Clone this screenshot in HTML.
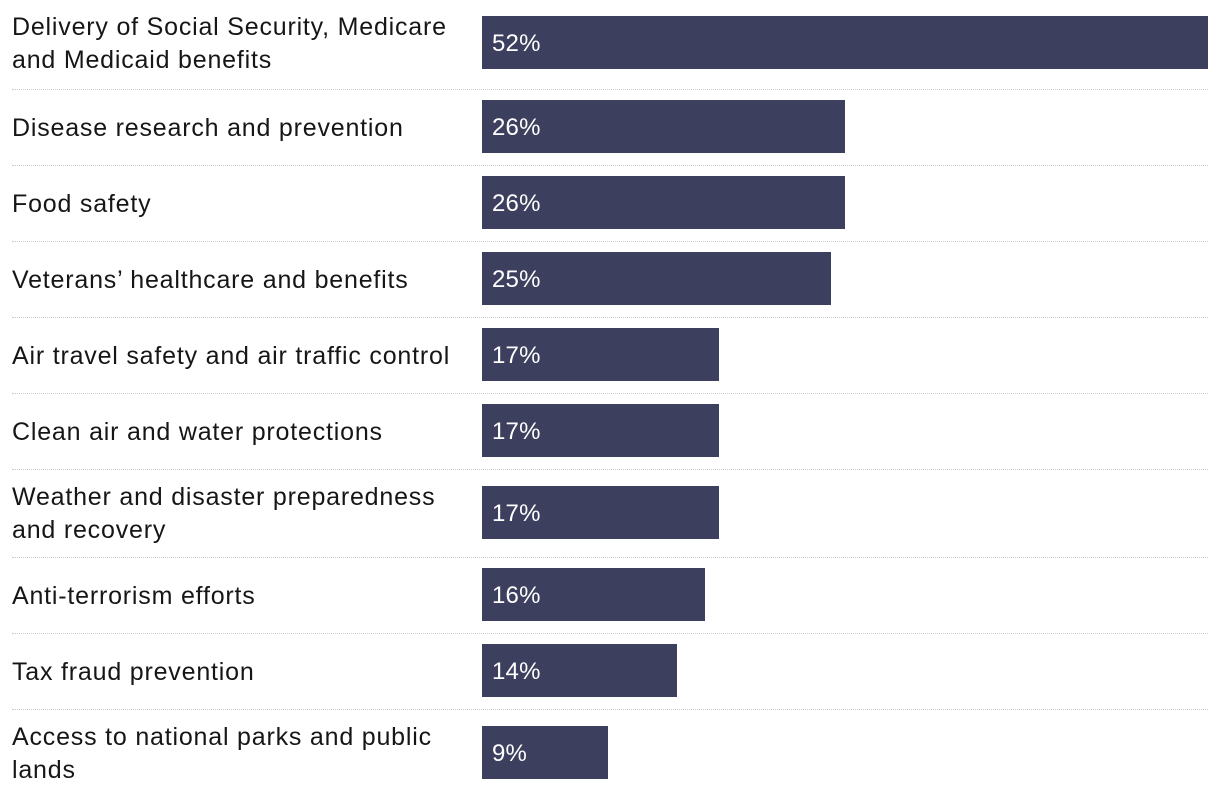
<!DOCTYPE html>
<html><head><meta charset="utf-8"><style>
body{margin:0;width:1220px;height:798px;background:#fff;font-family:"Liberation Sans",sans-serif;overflow:hidden;position:relative}
.lbl{position:absolute;left:12px;width:470px;font-size:25px;letter-spacing:0.8px;line-height:33px;color:#161616;display:flex;align-items:center;height:80px;white-space:nowrap}
.bar{position:absolute;left:482px;height:53px;background:#3d3f5e;color:#fff;font-size:24px;letter-spacing:0.2px;display:flex;align-items:center;box-sizing:border-box;padding-left:10px;padding-top:2px}
.sep{position:absolute;left:12px;width:1196px;height:0;border-top:1.5px dotted #c8c8c8}
</style></head><body>
<div id="chart"></div>
<script>
const categories=["Delivery of Social Security, Medicare\nand Medicaid benefits","Disease research and prevention","Food safety","Veterans’ healthcare and benefits","Air travel safety and air traffic control","Clean air and water protections","Weather and disaster preparedness\nand recovery","Anti-terrorism efforts","Tax fraud prevention","Access to national parks and public\nlands"];
const values=[52,26,26,25,17,17,17,16,14,9];
const valueLabels=["52%","26%","26%","25%","17%","17%","17%","16%","14%","9%"];
const barTops=[16,100,176,252,328,404,486,568,644,726];
const sepTops=[89,165,241,317,393,469,557,633,709];
const pxPer=726/52;
function xScale(v){return v*pxPer;}
const root=document.getElementById('chart');
categories.forEach((c,i)=>{
  const top=barTops[i];
  const b=document.createElement('div');b.className='bar';
  
  
  b.style.top=top+'px';b.style.width=xScale(values[i])+'px';
  b.textContent=valueLabels[i];root.appendChild(b);
  const l=document.createElement('div');l.className='lbl';
  
  
  l.style.top=(top+28-40)+'px';
  const s=document.createElement('span');s.style.whiteSpace='pre';s.textContent=c;l.appendChild(s);root.appendChild(l);
});
sepTops.forEach(t=>{
  const d=document.createElement('div');d.className='sep';
  
  
  d.style.top=t+'px';root.appendChild(d);
});
</script>
</body></html>
